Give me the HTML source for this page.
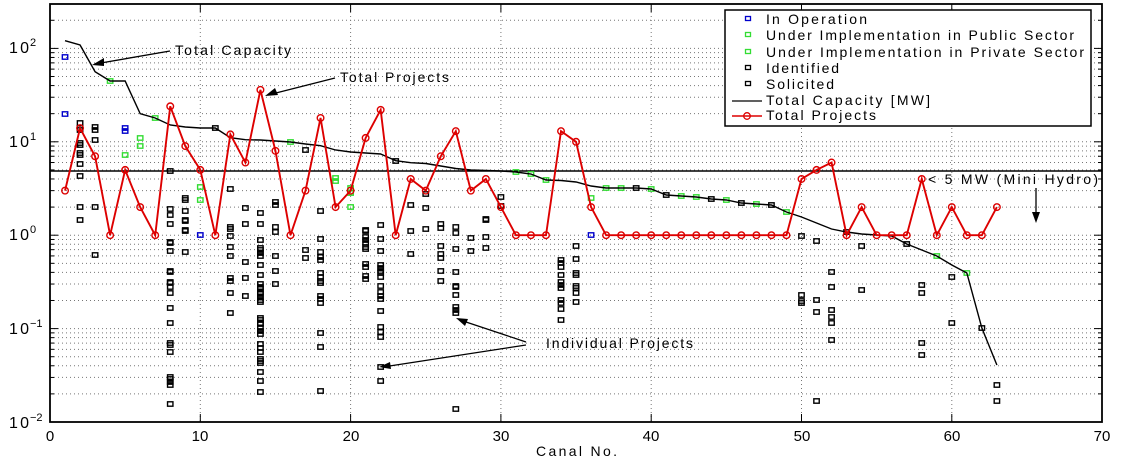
<!DOCTYPE html>
<html><head><meta charset="utf-8"><style>
html,body{margin:0;padding:0;background:#fff;}
svg{display:block;font-family:"Liberation Sans",Arial,sans-serif;}
</style></head><body>
<svg id="s" width="1142" height="463" viewBox="0 0 1142 463" xmlns="http://www.w3.org/2000/svg">
<rect width="1142" height="463" fill="#fff"/>
<g id="grid"></g>
<g id="data"></g>
<rect x="50" y="4" width="1052" height="418" fill="none" stroke="#000" stroke-width="1.8"/>
<g id="ticks"></g>
<g font-size="16" fill="#000">
<text x="9" y="53" textLength="20" lengthAdjust="spacing">10</text><text x="30" y="46" font-size="11">2</text>
<text x="9" y="147" textLength="20" lengthAdjust="spacing">10</text><text x="30" y="140" font-size="11">1</text>
<text x="9" y="240" textLength="20" lengthAdjust="spacing">10</text><text x="30" y="233" font-size="11">0</text>
<text x="9" y="334" textLength="20" lengthAdjust="spacing">10</text><text x="30" y="327" font-size="11">−1</text>
<text x="9" y="428" textLength="20" lengthAdjust="spacing">10</text><text x="30" y="421" font-size="11">−2</text>
</g>
<g font-size="15" text-anchor="middle">
<text x="50" y="441">0</text><text x="200" y="441">10</text><text x="351" y="441">20</text>
<text x="501" y="441">30</text><text x="651" y="441">40</text><text x="802" y="441">50</text>
<text x="952" y="441">60</text><text x="1102" y="441">70</text>
</g>
<text x="536" y="456" font-size="14" textLength="81" lengthAdjust="spacing">Canal No.</text>
<g font-size="14">
<text x="175" y="55" textLength="116" lengthAdjust="spacing">Total Capacity</text>
<text x="340" y="82" textLength="109" lengthAdjust="spacing">Total Projects</text>
<text x="546" y="348" textLength="147" lengthAdjust="spacing">Individual Projects</text>
<text x="928" y="184" textLength="170" lengthAdjust="spacing">&lt; 5 MW (Mini Hydro)</text>
</g>
<g stroke="#000" stroke-width="1.3" fill="none">
<line x1="170" y1="51" x2="95" y2="64"/>
<line x1="335" y1="78" x2="268" y2="95"/>
<line x1="526" y1="342" x2="460" y2="320"/>
<line x1="526" y1="345" x2="383" y2="367"/>
<line x1="1036" y1="188" x2="1036" y2="220"/>
</g>
<g fill="#000">
<polygon points="92,65 104,58 104,66"/>
<polygon points="265,96 275,88 278,95"/>
<polygon points="456,318 468,319 465,326"/>
<polygon points="379,367 390,362 391,369"/>
<polygon points="1036,223 1032,212 1040,212"/>
</g>
<g>
<rect x="725" y="10" width="366" height="116" fill="#fff" stroke="#000" stroke-width="1.5"/>
<g font-size="14">
<text x="766" y="24" textLength="101" lengthAdjust="spacing">In Operation</text>
<text x="766" y="40" textLength="308" lengthAdjust="spacing">Under Implementation in Public Sector</text>
<text x="766" y="57" textLength="318" lengthAdjust="spacing">Under Implementation in Private Sector</text>
<text x="766" y="73" textLength="73" lengthAdjust="spacing">Identified</text>
<text x="766" y="89" textLength="68" lengthAdjust="spacing">Solicited</text>
<text x="766" y="105" textLength="164" lengthAdjust="spacing">Total Capacity [MW]</text>
<text x="766" y="120" textLength="110" lengthAdjust="spacing">Total Projects</text>
</g>
<rect x="745.5" y="16.5" width="5" height="4" fill="none" stroke="#00c" stroke-width="1.3"/>
<rect x="745.5" y="32.5" width="5" height="4" fill="none" stroke="#3d3" stroke-width="1.3"/>
<rect x="745.5" y="49.5" width="5" height="4" fill="none" stroke="#3d3" stroke-width="1.3"/>
<rect x="745.5" y="65.5" width="5" height="4" fill="none" stroke="#000" stroke-width="1.3"/>
<rect x="745.5" y="81.5" width="5" height="4" fill="none" stroke="#000" stroke-width="1.3"/>
<line x1="732" y1="101" x2="762" y2="101" stroke="#000" stroke-width="1.3"/>
<line x1="732" y1="116" x2="762" y2="116" stroke="#d00" stroke-width="1.5"/>
<circle cx="747" cy="116" r="3.3" fill="none" stroke="#d00" stroke-width="1.3"/>
</g>
</svg>
<script>
(function(){
var NS="http://www.w3.org/2000/svg";
function el(p,t,a){var e=document.createElementNS(NS,t);for(var k in a)e.setAttribute(k,a[k]);p.appendChild(e);return e;}
var L=50,R=1102,T=4,B=422,D=93.4;
function X(i){return L+i*15.03;}
function Y(v){return 422-(Math.log10(v)+2)*D;}
var g=document.getElementById('grid'),tk=document.getElementById('ticks'),d=document.getElementById('data');
for(var e=-2;e<=2;e++){for(var m=1;m<=9;m++){var y=Y(m*Math.pow(10,e));if(y<T+1||y>B-0.5)continue;
 if(!(e==-2&&m==1)) el(g,'line',{x1:L,x2:R,y1:y,y2:y,stroke:'#777','stroke-width':1,'stroke-dasharray':'1 3'});
 var len=(m==1)?8:4;
 el(tk,'line',{x1:L,x2:L+len,y1:y,y2:y,stroke:'#000','stroke-width':1});
 el(tk,'line',{x1:R,x2:R-len,y1:y,y2:y,stroke:'#000','stroke-width':1});}}
for(var i=10;i<70;i+=10){var x=X(i);
 el(g,'line',{x1:x,x2:x,y1:T,y2:B,stroke:'#777','stroke-width':1,'stroke-dasharray':'1 3'});
 el(tk,'line',{x1:x,x2:x,y1:B,y2:B-8,stroke:'#000','stroke-width':1});
 el(tk,'line',{x1:x,x2:x,y1:T,y2:T+8,stroke:'#000','stroke-width':1});}
el(d,'line',{x1:L,x2:R,y1:171,y2:171,stroke:'#000','stroke-width':1.6});
var blk={2:[123,128,130,143,145,153,155,164,176,207,220],3:[127,130,140,207,255],
8:[171,209,215,224,242,243,251,271,272,282,283,287,293,308,323,343,345,352,377,379,382,385,404],
9:[198,200,211,220,221,230,231,252],12:[189,227,229,236,247,256,278,281,293,313],
13:[208,224,262,278,296],14:[213,224,240,248,250,253,256,265,275,284,287,289,292,294,297,300,302,318,320,323,324,328,331,334,344,348,352,359,361,363,372,381,392],
15:[202,205,227,232,256,271,284],17:[150,250,258],18:[211,239,252,257,260,273,277,281,283,296,299,303,333,347,391],
21:[230,231,237,240,243,247,249,264,267,276,279],22:[225,239,251,265,268,271,273,277,286,292,296,299,311,327,332,337,367,381],
24:[205,231,254],25:[194,208,229],26:[224,228,246,254,258,271,281],27:[227,233,249,272,286,287,295,307,310,313,409],
28:[238,251],29:[219,220,237,248],30:[197,206],34:[260,263,267,275,282,285,288,300,303,309,320],35:[246,259,273,275,286,288,293,302],
50:[236,295,301,303],51:[241,300,312,401],52:[272,287,310,317,323,340],54:[246,290],58:[285,293,343,355],60:[277,323],63:[385,401],
11:[128],23:[161],39:[188],41:[195],44:[199],46:[203],48:[205],53:[232],57:[244],62:[328]};
var grn={4:[81],6:[138,146],5:[155],7:[118],10:[187,200],16:[142],19:[178,181],20:[188,193,207],31:[172],32:[174],33:[180],36:[198],37:[188],38:[188],40:[189],42:[196],43:[197],45:[200],47:[204],49:[212],59:[256],61:[273]};
var blu={1:[57,114],5:[128,131],10:[235],36:[235]};
function sq(col,obj){for(var k in obj){obj[k].forEach(function(y){el(d,'rect',{x:X(+k)-2.7,y:y-2.2,width:5.4,height:4.4,fill:'none',stroke:col,'stroke-width':1.4});});}}
var cap=[[1,40.7],[2,45],[3,71.7],[4,81],[5,81],[6,113.7],[7,118],[8,125],[9,127],[10,128],[11,128],[12,137.7],[13,139.7],[14,140],[15,141],[16,142],[17,144],[18,145.7],[19,150],[20,152],[21,153],[22,154],[23,160.7],[24,162.7],[25,163.5],[26,166],[27,168.5],[28,170],[29,170.5],[30,171],[31,172],[32,174],[33,180],[34,180.5],[35,182],[36,186],[37,188],[38,188],[39,188],[40,189],[41,195],[42,196],[43,197],[44,199],[45,200],[46,203],[47,204],[48,205],[49,212],[50,217],[51,223],[52,229],[53,232],[54,234],[55,235],[56,236],[57,244],[58,250],[59,256],[60,265],[61,273],[62,328],[63,365]];
sq('#000',blk);sq('#3d3',grn);sq('#00c',blu);
el(d,'polyline',{points:cap.map(function(p){return X(p[0])+','+p[1];}).join(' '),fill:'none',stroke:'#000','stroke-width':1.4});
var tp=[3,14,7,1,5,2,1,24,9,5,1,12,6,36,8,1,3,18,2,3,11,22,1,4,3,7,13,3,4,2,1,1,1,13,10,2,1,1,1,1,1,1,1,1,1,1,1,1,1,4,5,6,1,2,1,1,1,4,1,2,1,1,2];
var pts=tp.map(function(v,i){return [X(i+1),Y(v)];});
el(d,'polyline',{points:pts.map(function(p){return p[0]+','+p[1];}).join(' '),fill:'none',stroke:'#d00','stroke-width':1.9});
pts.forEach(function(p){el(d,'circle',{cx:p[0],cy:p[1],r:3.3,fill:'none',stroke:'#d00','stroke-width':1.4});});
})();
</script>
</body></html>
